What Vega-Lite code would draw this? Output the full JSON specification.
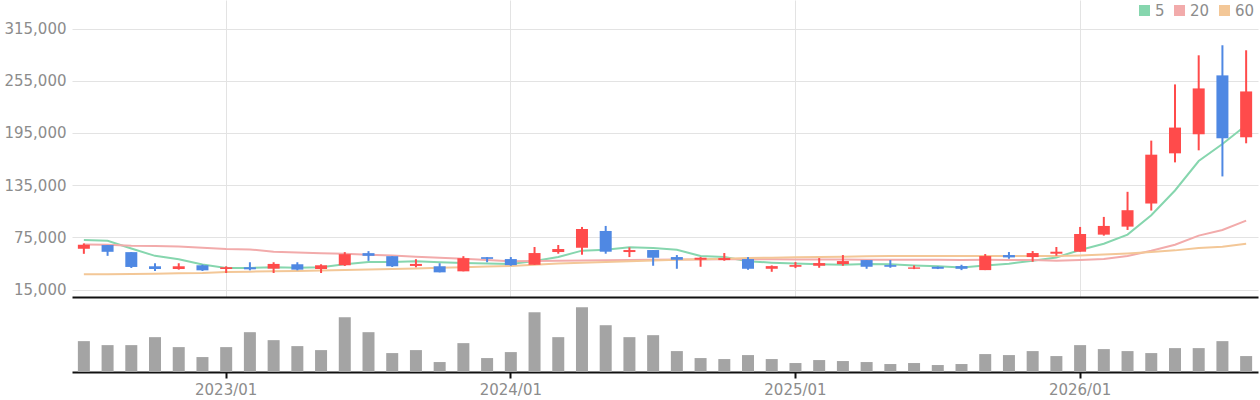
{
  "$schema": "https://vega.github.io/schema/vega-lite/v6.json",
  "padding": {"left": 3, "right": 2, "top": 0, "bottom": 0},
  "background": "white",
  "config": {
    "font": "DejaVu Sans",
    "view": {"stroke": null},
    "axis": {"labelFont": "DejaVu Sans", "labelFontSize": 15, "labelColor": "#8C8C8C", "title": null}
  },
  "data": {
    "values": [
      {"date": "2022/07", "open": 61840, "high": 68030, "low": 56030, "close": 66480, "volume": 93000, "m5": 71900, "m20": 66870, "m60": 32420},
      {"date": "2022/08", "open": 66100, "high": 66100, "low": 53710, "close": 58350, "volume": 81000, "m5": 71130, "m20": 66480, "m60": 32420},
      {"date": "2022/09", "open": 57970, "high": 57970, "low": 39770, "close": 40940, "volume": 81000, "m5": 62230, "m20": 65320, "m60": 32800},
      {"date": "2022/10", "open": 41710, "high": 45190, "low": 36290, "close": 38610, "volume": 105000, "m5": 53710, "m20": 64940, "m60": 33200},
      {"date": "2022/11", "open": 38610, "high": 45190, "low": 37840, "close": 41710, "volume": 75000, "m5": 49840, "m20": 64550, "m60": 33600},
      {"date": "2022/12", "open": 42870, "high": 43650, "low": 36290, "close": 37060, "volume": 45000, "m5": 43650, "m20": 63000, "m60": 34000},
      {"date": "2023/01", "open": 38610, "high": 41710, "low": 33970, "close": 40550, "volume": 75000, "m5": 39770, "m20": 61450, "m60": 35130},
      {"date": "2023/02", "open": 40550, "high": 46350, "low": 37060, "close": 38230, "volume": 120000, "m5": 39770, "m20": 61060, "m60": 35500},
      {"date": "2023/03", "open": 39000, "high": 46350, "low": 33970, "close": 44420, "volume": 96000, "m5": 40550, "m20": 58350, "m60": 35900},
      {"date": "2023/04", "open": 44030, "high": 46350, "low": 37060, "close": 37840, "volume": 78000, "m5": 40160, "m20": 57580, "m60": 36300},
      {"date": "2023/05", "open": 38610, "high": 44030, "low": 33970, "close": 42870, "volume": 66000, "m5": 40550, "m20": 56810, "m60": 36800},
      {"date": "2023/06", "open": 42870, "high": 57970, "low": 42100, "close": 55650, "volume": 165000, "m5": 44030, "m20": 56030, "m60": 37450},
      {"date": "2023/07", "open": 56810, "high": 59130, "low": 47900, "close": 53710, "volume": 120000, "m5": 46740, "m20": 54870, "m60": 38100},
      {"date": "2023/08", "open": 53320, "high": 53320, "low": 40940, "close": 41710, "volume": 57000, "m5": 46740, "m20": 54100, "m60": 38700},
      {"date": "2023/09", "open": 42100, "high": 49840, "low": 40550, "close": 44420, "volume": 66000, "m5": 47520, "m20": 52550, "m60": 39300},
      {"date": "2023/10", "open": 41710, "high": 45190, "low": 34740, "close": 34740, "volume": 30000, "m5": 46350, "m20": 51390, "m60": 40000},
      {"date": "2023/11", "open": 35900, "high": 53320, "low": 35900, "close": 51000, "volume": 87000, "m5": 45580, "m20": 50230, "m60": 40700},
      {"date": "2023/12", "open": 52160, "high": 52160, "low": 46350, "close": 50230, "volume": 42000, "m5": 44810, "m20": 49070, "m60": 41320},
      {"date": "2024/01", "open": 50000, "high": 52310, "low": 42310, "close": 43080, "volume": 60000, "m5": 44400, "m20": 47520, "m60": 42100},
      {"date": "2024/02", "open": 43460, "high": 63850, "low": 43460, "close": 56920, "volume": 180000, "m5": 47800, "m20": 47700, "m60": 43500},
      {"date": "2024/03", "open": 58080, "high": 66150, "low": 56150, "close": 61540, "volume": 105000, "m5": 52400, "m20": 48000, "m60": 44800},
      {"date": "2024/04", "open": 63080, "high": 86920, "low": 55000, "close": 84610, "volume": 195000, "m5": 59700, "m20": 48300, "m60": 45800},
      {"date": "2024/05", "open": 82310, "high": 88080, "low": 56150, "close": 58460, "volume": 141000, "m5": 60800, "m20": 48600, "m60": 46700},
      {"date": "2024/06", "open": 58080, "high": 63460, "low": 52310, "close": 60380, "volume": 105000, "m5": 63700, "m20": 48900, "m60": 47500},
      {"date": "2024/07", "open": 60380, "high": 60380, "low": 42310, "close": 51540, "volume": 111000, "m5": 62600, "m20": 49200, "m60": 48300},
      {"date": "2024/08", "open": 52310, "high": 54620, "low": 38850, "close": 49230, "volume": 63000, "m5": 60600, "m20": 49400, "m60": 49100},
      {"date": "2024/09", "open": 49230, "high": 52310, "low": 41150, "close": 51540, "volume": 42000, "m5": 53500, "m20": 49600, "m60": 49800},
      {"date": "2024/10", "open": 48850, "high": 56920, "low": 48080, "close": 51150, "volume": 39000, "m5": 52400, "m20": 49800, "m60": 50500},
      {"date": "2024/11", "open": 50000, "high": 52310, "low": 37690, "close": 38850, "volume": 51000, "m5": 47400, "m20": 49800, "m60": 51100},
      {"date": "2024/12", "open": 38850, "high": 42690, "low": 35380, "close": 41920, "volume": 39000, "m5": 45900, "m20": 49700, "m60": 51600},
      {"date": "2025/01", "open": 41150, "high": 46540, "low": 39620, "close": 43080, "volume": 27000, "m5": 44900, "m20": 49600, "m60": 52100},
      {"date": "2025/02", "open": 42310, "high": 51150, "low": 40000, "close": 45380, "volume": 36000, "m5": 44150, "m20": 49500, "m60": 52500},
      {"date": "2025/03", "open": 44230, "high": 54620, "low": 42310, "close": 47690, "volume": 33000, "m5": 43600, "m20": 49400, "m60": 52800},
      {"date": "2025/04", "open": 48850, "high": 48850, "low": 38850, "close": 41150, "volume": 30000, "m5": 44300, "m20": 49300, "m60": 53100},
      {"date": "2025/05", "open": 43080, "high": 48850, "low": 40000, "close": 41150, "volume": 24000, "m5": 44000, "m20": 49300, "m60": 53400},
      {"date": "2025/06", "open": 38850, "high": 42690, "low": 38460, "close": 40380, "volume": 27000, "m5": 42600, "m20": 49200, "m60": 53500},
      {"date": "2025/07", "open": 41150, "high": 41500, "low": 38500, "close": 38850, "volume": 21000, "m5": 41800, "m20": 49100, "m60": 53500},
      {"date": "2025/08", "open": 41920, "high": 43460, "low": 37310, "close": 38850, "volume": 24000, "m5": 40400, "m20": 49000, "m60": 53500},
      {"date": "2025/09", "open": 37310, "high": 55770, "low": 37310, "close": 53460, "volume": 54000, "m5": 42690, "m20": 49100, "m60": 53500},
      {"date": "2025/10", "open": 54620, "high": 58080, "low": 50380, "close": 51920, "volume": 51000, "m5": 44620, "m20": 49000, "m60": 53500},
      {"date": "2025/11", "open": 52310, "high": 59230, "low": 46920, "close": 56920, "volume": 63000, "m5": 48080, "m20": 48850, "m60": 53500},
      {"date": "2025/12", "open": 56150, "high": 63850, "low": 53850, "close": 58460, "volume": 48000, "m5": 51920, "m20": 48100, "m60": 53500},
      {"date": "2026/01", "open": 58460, "high": 86920, "low": 58460, "close": 78850, "volume": 81000, "m5": 60380, "m20": 48850, "m60": 54230},
      {"date": "2026/02", "open": 78080, "high": 98460, "low": 76920, "close": 88080, "volume": 69000, "m5": 67690, "m20": 50000, "m60": 55380},
      {"date": "2026/03", "open": 87310, "high": 127310, "low": 83460, "close": 106150, "volume": 63000, "m5": 78080, "m20": 53460, "m60": 56540},
      {"date": "2026/04", "open": 113850, "high": 186150, "low": 105770, "close": 170000, "volume": 57000, "m5": 100380, "m20": 59610, "m60": 58080},
      {"date": "2026/05", "open": 171540, "high": 250770, "low": 161150, "close": 201150, "volume": 72000, "m5": 128850, "m20": 66540, "m60": 60000},
      {"date": "2026/06", "open": 193460, "high": 284230, "low": 175000, "close": 246150, "volume": 72000, "m5": 162690, "m20": 76920, "m60": 62690},
      {"date": "2026/07", "open": 261150, "high": 295770, "low": 145000, "close": 188850, "volume": 93000, "m5": 182310, "m20": 83460, "m60": 64230},
      {"date": "2026/08", "open": 190000, "high": 290000, "low": 183080, "close": 242690, "volume": 48000, "m5": 203850, "m20": 94230, "m60": 67690}
    ]
  },
  "spacing": 0,
  "vconcat": [
    {
      "width": 1186,
      "height": 297,
      "encoding": {
        "x": {
          "field": "date", "type": "ordinal",
          "scale": {"type": "band", "paddingInner": 0, "paddingOuter": 0},
          "axis": {
            "values": ["2023/01", "2024/01", "2025/01", "2026/01"],
            "labels": false, "ticks": false,
            "domain": true, "domainColor": "#111111", "domainWidth": 2,
            "grid": true, "gridColor": "#E3E3E3", "gridWidth": 1,
            "bandPosition": 0.5
          }
        }
      },
      "layer": [
        {
          "transform": [{"fold": ["m5", "m20", "m60"], "as": ["ma", "maValue"]}],
          "mark": {"type": "line", "strokeWidth": 2, "interpolate": "linear"},
          "encoding": {
            "y": {
              "field": "maValue", "type": "quantitative",
              "scale": {"domain": [6400, 347800], "nice": false, "zero": false},
              "axis": {
                "values": [15000, 75000, 135000, 195000, 255000, 315000],
                "format": ",d", "domain": false, "ticks": false,
                "labelPadding": 6, "grid": true, "gridColor": "#E3E3E3"
              }
            },
            "color": {
              "field": "ma", "type": "nominal",
              "scale": {"domain": ["m5", "m20", "m60"], "range": ["#86D6AE", "#F2ABAB", "#F3C797"]},
              "legend": {
                "title": null, "orient": "top-right", "offset": 3, "direction": "horizontal",
                "gridAlign": "none",
                "symbolType": "square", "symbolSize": 121, "symbolStrokeWidth": 0,
                "labelFontSize": 15, "labelColor": "#8C8C8C", "labelOffset": 3, "columnPadding": 7,
                "labelExpr": "replace(datum.label, 'm', '')",
                "encode": {"symbols": {"update": {"fill": {"scale": "color", "field": "value"}, "strokeWidth": {"value": 0}, "opacity": {"value": 1}}}}
              }
            },
            "order": {"field": "date"}
          }
        },
        {
          "mark": {"type": "rule", "strokeWidth": 2},
          "encoding": {
            "y": {
              "field": "low", "type": "quantitative",
              "scale": {"domain": [6400, 347800], "nice": false, "zero": false},
              "axis": {
                "values": [15000, 75000, 135000, 195000, 255000, 315000],
                "format": ",d", "domain": false, "ticks": false,
                "labelPadding": 6, "grid": true, "gridColor": "#E3E3E3"
              }
            },
            "y2": {"field": "high"},
            "color": {"condition": {"test": "datum.close >= datum.open", "value": "#FF4B4B"}, "value": "#4F88E3"}
          }
        },
        {
          "mark": {"type": "bar", "width": 12},
          "encoding": {
            "y": {
              "field": "open", "type": "quantitative",
              "scale": {"domain": [6400, 347800], "nice": false, "zero": false},
              "axis": {
                "values": [15000, 75000, 135000, 195000, 255000, 315000],
                "format": ",d", "domain": false, "ticks": false,
                "labelPadding": 6, "grid": true, "gridColor": "#E3E3E3"
              }
            },
            "y2": {"field": "close"},
            "color": {"condition": {"test": "datum.close >= datum.open", "value": "#FF4B4B"}, "value": "#4F88E3"}
          }
        }
      ]
    },
    {
      "width": 1186,
      "height": 74,
      "mark": {"type": "bar", "width": 12, "color": "#A4A4A4"},
      "encoding": {
        "x": {
          "field": "date", "type": "ordinal",
          "scale": {"type": "band", "paddingInner": 0, "paddingOuter": 0},
          "axis": {
            "values": ["2023/01", "2024/01", "2025/01", "2026/01"],
            "labelAngle": 0, "domain": true, "domainColor": "#111111", "domainWidth": 2,
            "ticks": true, "tickColor": "#111111", "tickWidth": 2, "tickSize": 6,
            "labelPadding": 4, "grid": false, "bandPosition": 0.5
          }
        },
        "y": {
          "field": "volume", "type": "quantitative",
          "scale": {"domain": [0, 223000], "nice": false},
          "axis": null
        }
      }
    }
  ]
}
